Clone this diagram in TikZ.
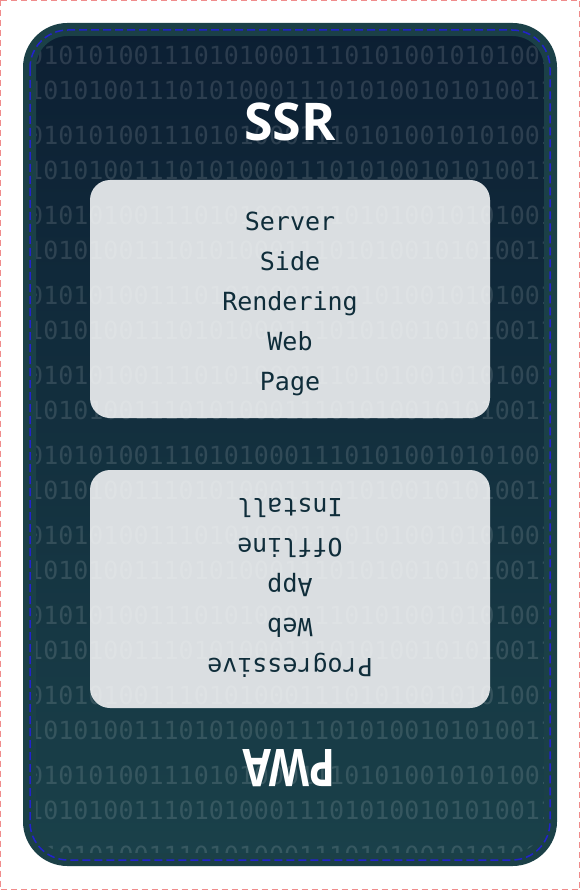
\documentclass[tikz,border=0pt]{standalone}
\usepackage{fontspec}
\newfontfamily\titlefont{Open Sans}
\newfontfamily\codefont{DejaVu Sans Mono}
\definecolor{navy}{HTML}{0C1F33}
\definecolor{tealbot}{HTML}{1A414A}
\definecolor{rim}{HTML}{1B4047}
\definecolor{cardfill}{HTML}{DADEE1}
\definecolor{ink}{HTML}{0F2D3A}
\definecolor{dashblue}{HTML}{2222CC}
\definecolor{framered}{HTML}{F08C8C}
\tikzset{
  card/.style={fill=cardfill, rounded corners=20pt, minimum width=400pt, minimum height=238pt, inner sep=0pt},
  cardtext/.style={font=\codefont\fontsize{25}{40}\selectfont, text=ink, align=center, inner sep=0pt},
  title/.style={font=\titlefont\bfseries\fontsize{52}{52}\selectfont, text=white, inner sep=0pt},
  bits/.style={font=\codefont\fontsize{25}{25}\selectfont, text=white, text opacity=0.13, inner sep=0pt, anchor=west},
  panel/.style={rounded corners=38pt},
}
\begin{document}
\begin{tikzpicture}[x=1pt,y=-1pt]
\useasboundingbox (0,0) rectangle (580,890);
\draw[framered, dash pattern=on 6pt off 4pt, line width=1pt] (0.5,0.5) rectangle (579.5,889.5);
\path[panel, top color=navy, bottom color=tealbot] (29.5,29.5) rectangle (550.5,859.5);
\node[card] (ssrcard) at (290,299) {};
\node[card] (pwacard) at (290,589) {};
\begin{scope}
\clip[panel] (29.5,29.5) rectangle (550.5,859.5);
\foreach \k in {0,...,10} {
  \node[bits] (bitsA\k) at (28,55+80*\k) {010101001110101000111010100101010011101};
}
\foreach \k in {0,...,9} {
  \node[bits] (bitsB\k) at (28,90+80*\k) {101010011101010001110101001010100111010};
}
\end{scope}
\node[title] (ssr) at (290,121.5) {SSR};
\node[title, rotate=180, xscale=0.8] (pwa) at (289,768) {PWA};
\node[cardtext] (ssrtext) at (290,303.9) {Server\\Side\\Rendering\\Web\\Page};
\node[cardtext, rotate=180] (pwatext) at (290,587.5) {Progressive\\Web\\App\\Offline\\Install};
\draw[rim, line width=13pt, panel] (29.5,29.5) rectangle (550.5,859.5);
\draw[dashblue, line width=1.5pt, dash pattern=on 8pt off 4pt, panel] (30,30) rectangle (550,860);
\end{tikzpicture}
\end{document}
